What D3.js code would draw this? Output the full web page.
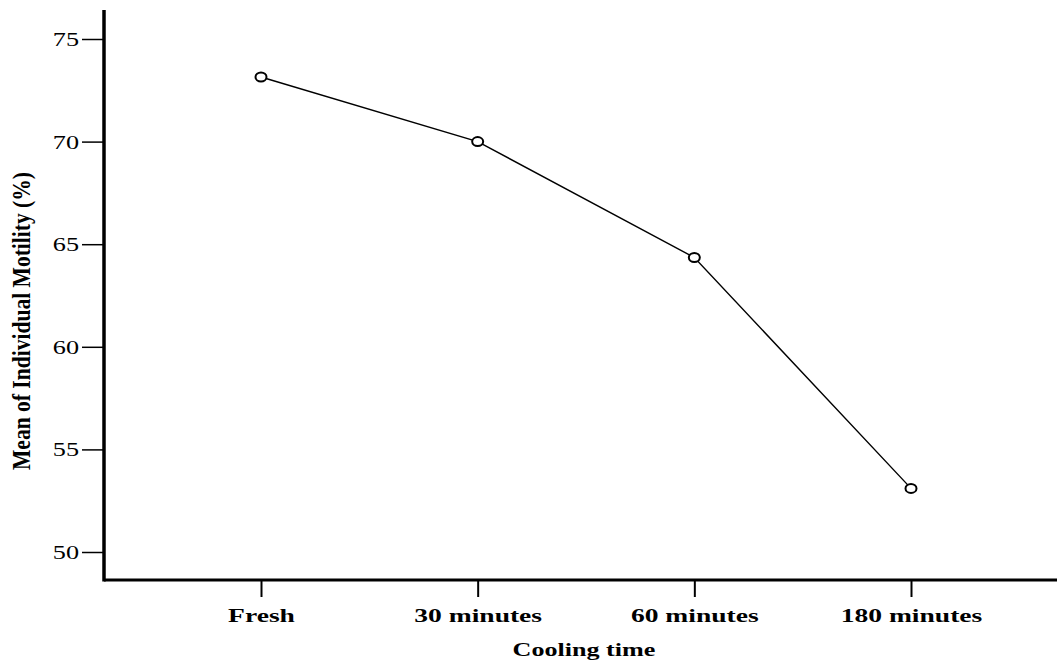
<!DOCTYPE html>
<html><head><meta charset="utf-8">
<script src="https://cdn.jsdelivr.net/npm/d3@7"></script>
<style>body{margin:0;background:#fff}svg{display:block}</style>
</head><body>
<script>
const categories = ["Fresh", "30 minutes", "60 minutes", "180 minutes"];
const motility = [73.15, 70.0, 64.35, 53.1];
const yTicks = [50, 55, 60, 65, 70, 75];
const xTitle = "Cooling time";
const yTitle = "Mean of Individual Motility (%)";

const W = 1057, H = 662;
const mLeft = 104, mRight = 1057, mTop = 10, mBottom = 580;
const svg = d3.select("body").append("svg").attr("width", W).attr("height", H);

const y = d3.scaleLinear().domain([50, 75]).range([552, 39]);
const x = d3.scalePoint().domain(categories).range([261, 911]);

const font = "'Liberation Serif', 'Times New Roman', serif";

function stretch(sel, factor) {
  sel.each(function() {
    const n = this.getComputedTextLength();
    d3.select(this).attr("textLength", n * factor).attr("lengthAdjust", "spacingAndGlyphs");
  });
}

// y axis
const yAxis = svg.append("g").attr("transform", `translate(${mLeft},0)`)
  .call(d3.axisLeft(y).tickValues(yTicks).tickSize(22).tickPadding(3));
yAxis.select(".domain").remove();
yAxis.selectAll(".tick line").attr("stroke", "#000").attr("stroke-width", 1.5);
yAxis.selectAll(".tick text").attr("font-family", font).attr("font-size", 19)
  .attr("fill", "#000").attr("dy", "0.34em");
stretch(yAxis.selectAll(".tick text"), 1.38);

// x axis
const xAxis = svg.append("g").attr("transform", `translate(0,${mBottom})`)
  .call(d3.axisBottom(x).tickSize(17).tickPadding(0));
xAxis.select(".domain").remove();
xAxis.selectAll(".tick line").attr("stroke", "#000").attr("stroke-width", 2);
xAxis.selectAll(".tick text").attr("font-family", font).attr("font-size", 19)
  .attr("font-weight", "bold").attr("fill", "#000").attr("y", 42).attr("dy", null);
stretch(xAxis.selectAll(".tick text"), 1.45);

// axis lines
svg.append("line").attr("x1", mLeft).attr("x2", mLeft).attr("y1", mTop).attr("y2", mBottom + 1.5)
  .attr("stroke", "#000").attr("stroke-width", 3.5);
svg.append("line").attr("x1", mLeft).attr("x2", mRight).attr("y1", mBottom).attr("y2", mBottom)
  .attr("stroke", "#000").attr("stroke-width", 3);

// line
const data = categories.map((c, i) => ({c, v: motility[i]}));
svg.append("path").datum(data)
  .attr("d", d3.line().x(d => x(d.c)).y(d => y(d.v)))
  .attr("fill", "none").attr("stroke", "#000").attr("stroke-width", 1.4);
svg.selectAll("ellipse.pt").data(data).enter().append("ellipse")
  .attr("class", "pt").attr("cx", d => x(d.c)).attr("cy", d => y(d.v))
  .attr("rx", 5.5).attr("ry", 4.5)
  .attr("fill", "#fff").attr("stroke", "#000").attr("stroke-width", 2);

// titles
const xt = svg.append("text").attr("x", 584).attr("y", 656).attr("text-anchor", "middle")
  .attr("font-family", font).attr("font-size", 18).attr("font-weight", "bold")
  .text(xTitle);
stretch(xt, 1.45);
svg.append("text").attr("transform", "translate(30,321) rotate(-90)")
  .attr("text-anchor", "middle").attr("font-family", font).attr("font-size", 26)
  .attr("font-weight", "bold").attr("textLength", 298).attr("lengthAdjust", "spacingAndGlyphs")
  .text(yTitle);
</script>
</body></html>
